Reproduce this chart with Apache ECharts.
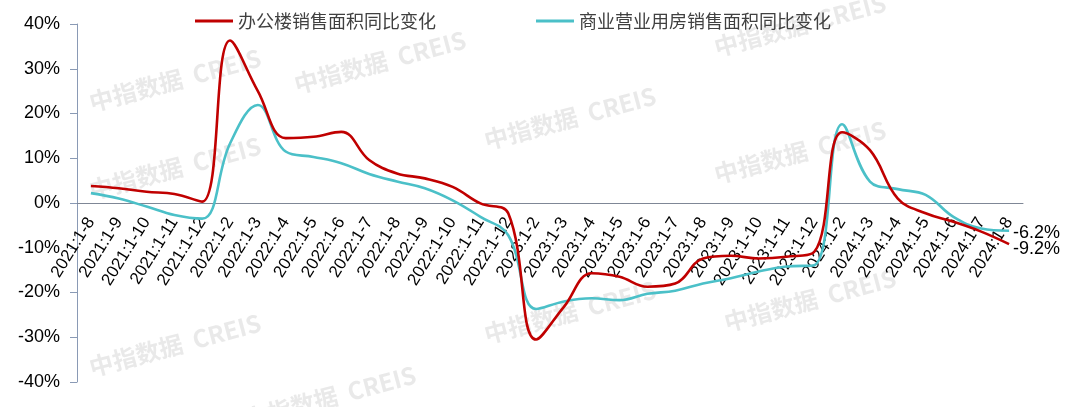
<!DOCTYPE html>
<html>
<head>
<meta charset="utf-8">
<script src="https://cdn.jsdelivr.net/npm/echarts@6/dist/echarts.min.js"></script>
<style>
html,body{margin:0;padding:0;background:#fff;}
#chart{width:1080px;height:407px;}
</style>
</head>
<body>
<div id="chart"></div>
<script>
const categories = [
  '2021:1-8','2021:1-9','2021:1-10','2021:1-11','2021:1-12',
  '2022:1-2','2022:1-3','2022:1-4','2022:1-5','2022:1-6','2022:1-7','2022:1-8','2022:1-9','2022:1-10','2022:1-11','2022:1-12',
  '2023:1-2','2023:1-3','2023:1-4','2023:1-5','2023:1-6','2023:1-7','2023:1-8','2023:1-9','2023:1-10','2023:1-11','2023:1-12',
  '2024:1-2','2024:1-3','2024:1-4','2024:1-5','2024:1-6','2024:1-7','2024:1-8'
];
const officeName = '办公楼销售面积同比变化';
const commercialName = '商业营业用房销售面积同比变化';
const officeValues = [
  3.8, 3.3, 2.5, 2.0, 0.3,
  36.3, 25.0, 14.5, 14.8, 15.9, 9.6, 6.6, 5.5, 3.6, -0.1, -2.3,
  -30.5, -23.2, -15.7, -16.5, -18.7, -18.0, -12.4, -11.8, -12.4, -12.0, -10.9,
  15.8, 11.8, 1.0, -2.3, -4.2, -6.4, -9.2
];
const commercialValues = [
  2.2, 1.0, -0.8, -2.7, -3.5,
  13.3, 21.9, 11.5, 10.3, 8.9, 6.5, 4.8, 3.3, 0.6, -3.1, -7.2,
  -23.7, -22.0, -21.3, -21.7, -20.3, -19.6, -18.0, -16.8, -15.3, -14.2, -13.9,
  17.6, 4.8, 3.1, 1.8, -3.1, -5.7, -6.2
];
const yTicks = { min: -40, max: 40, interval: 10 };

const wm = [
  [175, 80], [380, 62], [570, 118], [800, 152], [800, 25], [570, 312], [810, 300], [330, 397], [175, 345], [175, 168]
];
const watermarks = wm.map(p => ({
  type: 'text', x: p[0], y: p[1], rotation: 15 * Math.PI / 180, silent: true, z: -10,
  style: { text: '中指数据  CREIS', fill: 'rgba(200,200,200,0.4)', font: 'bold 24px "Noto Sans CJK SC", sans-serif', textAlign: 'center', textVerticalAlign: 'middle' }
}));

const lblFont = '"Liberation Sans", Arial, sans-serif';
const chart = echarts.init(document.getElementById('chart'), null, { renderer: 'canvas' });
chart.setOption({
  animation: false,
  backgroundColor: '#ffffff',
  graphic: watermarks,
  legend: {
    top: 7,
    left: 190,
    itemGap: 100,
    itemWidth: 38,
    itemHeight: 3,
    icon: 'rect',
    textStyle: { fontSize: 18, color: '#404040', fontFamily: '"Noto Sans CJK SC", sans-serif' },
    data: [officeName, commercialName]
  },
  grid: { left: 77, right: 57, top: 24, bottom: 25, containLabel: false },
  xAxis: {
    type: 'category',
    data: categories,
    boundaryGap: true,
    position: 'bottom',
    offset: -179,
    axisLine: { onZero: false, lineStyle: { color: '#7f8796', width: 1 } },
    axisTick: { show: false },
    axisLabel: {
      interval: 0, rotate: 58, margin: 16,
      fontSize: 17, color: '#000', fontFamily: lblFont
    },
    splitLine: { show: false }
  },
  yAxis: {
    type: 'value',
    min: yTicks.min, max: yTicks.max, interval: yTicks.interval,
    axisLine: { show: true, lineStyle: { color: '#8a9ab5', width: 1 } },
    axisTick: { show: true, inside: false, length: 7, lineStyle: { color: '#8a9ab5' } },
    axisLabel: { formatter: '{value}%', fontSize: 18, color: '#000', margin: 17, fontFamily: lblFont },
    splitLine: { show: false }
  },
  series: [
    {
      name: officeName, type: 'line', data: officeValues, smooth: 0.4,
      symbol: 'none', showSymbol: false, z: 3,
      lineStyle: { color: '#C00000', width: 2.6 }, itemStyle: { color: '#C00000' },
      endLabel: { show: true, formatter: p => p.value + '%', fontSize: 18, color: '#000', distance: 4, offset: [0, 5], fontFamily: lblFont }
    },
    {
      name: commercialName, type: 'line', data: commercialValues, smooth: 0.4,
      symbol: 'none', showSymbol: false, z: 2,
      lineStyle: { color: '#4BC0C8', width: 2.6 }, itemStyle: { color: '#4BC0C8' },
      endLabel: { show: true, formatter: p => p.value + '%', fontSize: 18, color: '#000', distance: 4, offset: [0, 2], fontFamily: lblFont }
    }
  ]
});
</script>
</body>
</html>
